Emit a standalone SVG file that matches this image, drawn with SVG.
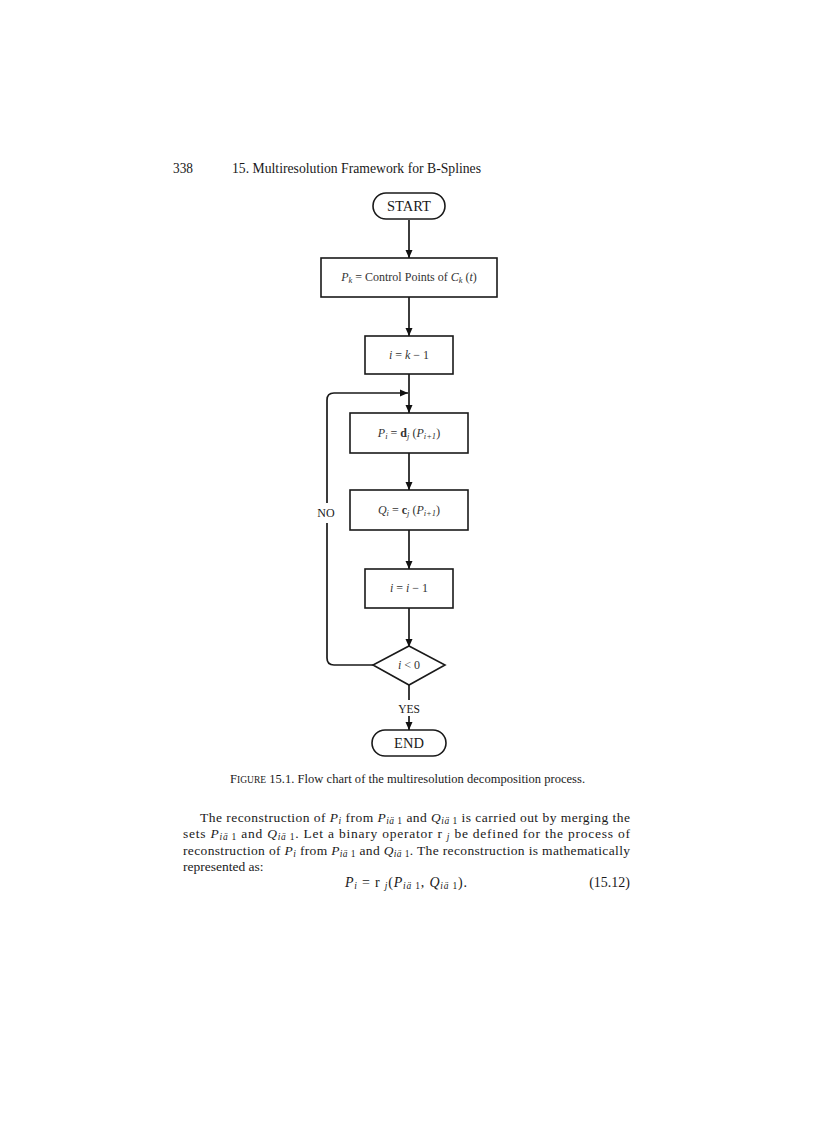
<svg xmlns="http://www.w3.org/2000/svg" width="816" height="1123" viewBox="0 0 816 1123">
<defs>
<marker id="arr" markerUnits="userSpaceOnUse" markerWidth="8" markerHeight="8" refX="8" refY="4" orient="auto">
<path d="M0,0.5 L8,4 L0,7.5 z" fill="#111"/>
</marker>
<style>
.t{font-family:"Liberation Serif","Times New Roman",serif;fill:#1a1a1a}
.fc{font-family:"Liberation Serif","Times New Roman",serif;fill:#333;font-size:12px;text-anchor:middle}
.box{fill:#fff;stroke:#1a1a1a;stroke-width:1.6}
.ln{fill:none;stroke:#1a1a1a;stroke-width:1.7}
.i{font-style:italic}
.s{font-size:8.5px}
.b{font-size:9.5px}
</style>
</defs>
<rect width="816" height="1123" fill="#fff"/>

<g id="header">
<text class="t" x="173" y="173" font-size="14" textLength="20" lengthAdjust="spacingAndGlyphs">338</text>
<text class="t" x="232" y="173" font-size="14" textLength="249" lengthAdjust="spacingAndGlyphs">15. Multiresolution Framework for B-Splines</text>
</g>

<g id="connectors">
<line class="ln" x1="409" y1="220" x2="409" y2="258" marker-end="url(#arr)"/>
<line class="ln" x1="409" y1="297" x2="409" y2="336" marker-end="url(#arr)"/>
<line class="ln" x1="409" y1="374" x2="409" y2="413" marker-end="url(#arr)"/>
<line class="ln" x1="409" y1="453" x2="409" y2="490" marker-end="url(#arr)"/>
<line class="ln" x1="409" y1="530" x2="409" y2="569" marker-end="url(#arr)"/>
<line class="ln" x1="409" y1="608" x2="409" y2="647" marker-end="url(#arr)"/>
<line class="ln" x1="409" y1="685" x2="409" y2="700"/>
<line class="ln" x1="409" y1="716" x2="409" y2="730" marker-end="url(#arr)"/>
<path class="ln" d="M373,665 H334 Q327,665 327,658 V523"/>
<path class="ln" d="M327,503 V400 Q327,393 334,393 H408" marker-end="url(#arr)"/>
<text class="t" x="326" y="517" font-size="12" text-anchor="middle">NO</text>
<text class="t" x="409" y="713" font-size="11.5" text-anchor="middle">YES</text>
</g>

<g id="start">
<rect class="box" x="373" y="193" width="72" height="26" rx="13"/>
<text class="t" x="409" y="211" font-size="14.5" text-anchor="middle">START</text>
</g>

<g id="init">
<rect class="box" x="321" y="258" width="176" height="39"/>
<text class="fc" x="409" y="281"><tspan class="i">P</tspan><tspan class="i s" dy="2">k</tspan><tspan dy="-2"> = Control Points of </tspan><tspan class="i">C</tspan><tspan class="i s" dy="2">k</tspan><tspan dy="-2"> (</tspan><tspan class="i">t</tspan>)</text>
</g>

<g id="setI">
<rect class="box" x="365" y="336" width="88" height="38"/>
<text class="fc" x="409" y="359"><tspan class="i">i</tspan> = <tspan class="i">k</tspan> − 1</text>
</g>

<g id="decompP">
<rect class="box" x="350" y="413" width="118" height="40"/>
<text class="fc" x="409" y="437"><tspan class="i">P</tspan><tspan class="i s" dy="2">i</tspan><tspan dy="-2"> = </tspan><tspan font-weight="bold">d</tspan><tspan class="i s" dy="2">j</tspan><tspan dy="-2"> (</tspan><tspan class="i">P</tspan><tspan class="i s" dy="2">i+1</tspan><tspan dy="-2">)</tspan></text>
</g>

<g id="decompQ">
<rect class="box" x="350" y="490" width="118" height="40"/>
<text class="fc" x="409" y="514"><tspan class="i">Q</tspan><tspan class="i s" dy="2">i</tspan><tspan dy="-2"> = </tspan><tspan font-weight="bold">c</tspan><tspan class="i s" dy="2">j</tspan><tspan dy="-2"> (</tspan><tspan class="i">P</tspan><tspan class="i s" dy="2">i+1</tspan><tspan dy="-2">)</tspan></text>
</g>

<g id="decr">
<rect class="box" x="365" y="569" width="88" height="39"/>
<text class="fc" x="409" y="592"><tspan class="i">i</tspan> = <tspan class="i">i</tspan> − 1</text>
</g>

<g id="test">
<polygon class="box" points="409,646 445,665 409,685 373,665"/>
<text class="fc" x="409" y="669"><tspan class="i">i</tspan> &lt; 0</text>
</g>

<g id="end">
<rect class="box" x="372" y="730" width="74" height="26" rx="13"/>
<text class="t" x="409" y="748" font-size="14.5" text-anchor="middle">END</text>
</g>

<g id="caption">
<text class="t" x="230" y="783" font-size="12.5" textLength="355" lengthAdjust="spacing">F<tspan font-size="9.5">IGURE</tspan> 15.1. Flow chart of the multiresolution decomposition process.</text>
</g>

<g id="body" font-size="13.5">
<text class="t" x="200" y="822" textLength="430" lengthAdjust="spacing">The reconstruction of <tspan class="i">P</tspan><tspan class="i b" dy="2">i</tspan><tspan dy="-2"> from </tspan><tspan class="i">P</tspan><tspan class="b" dy="2"><tspan class="i">iä</tspan> 1</tspan><tspan dy="-2"> and </tspan><tspan class="i">Q</tspan><tspan class="b" dy="2"><tspan class="i">iä</tspan> 1</tspan><tspan dy="-2"> is carried out by merging the</tspan></text>
<text class="t" x="183" y="838" textLength="447" lengthAdjust="spacing">sets <tspan class="i">P</tspan><tspan class="b" dy="2"><tspan class="i">iä</tspan> 1</tspan><tspan dy="-2"> and </tspan><tspan class="i">Q</tspan><tspan class="b" dy="2"><tspan class="i">iä</tspan> 1</tspan><tspan dy="-2">. Let a binary operator r </tspan><tspan class="i b" dy="2">j</tspan><tspan dy="-2"> be defined for the process of</tspan></text>
<text class="t" x="183" y="855" textLength="447" lengthAdjust="spacing">reconstruction of <tspan class="i">P</tspan><tspan class="i b" dy="2">i</tspan><tspan dy="-2"> from </tspan><tspan class="i">P</tspan><tspan class="b" dy="2"><tspan class="i">iä</tspan> 1</tspan><tspan dy="-2"> and </tspan><tspan class="i">Q</tspan><tspan class="b" dy="2"><tspan class="i">iä</tspan> 1</tspan><tspan dy="-2">. The reconstruction is mathematically</tspan></text>
<text class="t" x="183" y="871">represented as:</text>
<text class="t" x="345" y="887" font-size="14" textLength="122" lengthAdjust="spacing"><tspan class="i">P</tspan><tspan class="i b" dy="2">i</tspan><tspan dy="-2"> = r </tspan><tspan class="i b" dy="2">j</tspan><tspan dy="-2">(</tspan><tspan class="i">P</tspan><tspan class="b" dy="2"><tspan class="i">iä</tspan> 1</tspan><tspan dy="-2">, </tspan><tspan class="i">Q</tspan><tspan class="b" dy="2"><tspan class="i">iä</tspan> 1</tspan><tspan dy="-2">).</tspan></text>
<text class="t" x="630" y="887" font-size="14" text-anchor="end">(15.12)</text>
</g>
</svg>
